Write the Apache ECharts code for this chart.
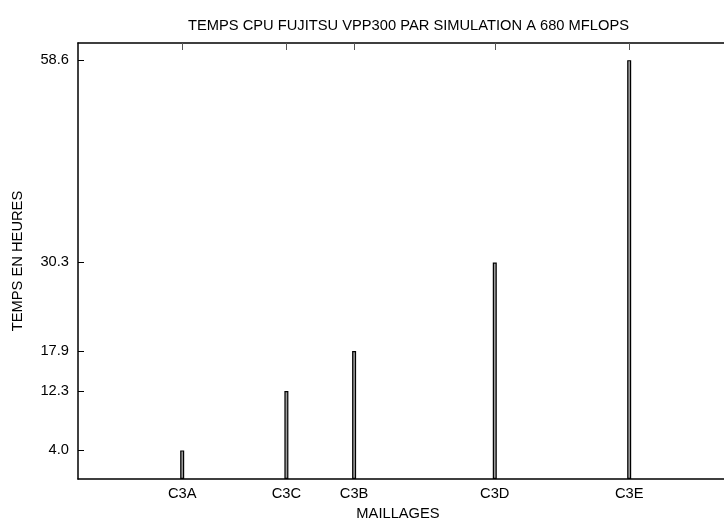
<!DOCTYPE html>
<html>
<head>
<meta charset="utf-8">
<script src="https://cdn.jsdelivr.net/npm/echarts@6/dist/echarts.min.js"></script>
<style>html,body{margin:0;padding:0;background:#fff;}#c{width:724px;height:526px;}</style>
</head>
<body>
<div id="c"></div>
<script>
// Data
const categories = ['C3A', 'C3C', 'C3B', 'C3D', 'C3E'];
const meshPositions = [1.0, 2.0, 2.65, 4.0, 5.29];
const cpuHours = [4.0, 12.3, 17.9, 30.3, 58.6];
const yTickValues = [4.0, 12.3, 17.9, 30.3, 58.6];

const chart = echarts.init(document.getElementById('c'), null, {renderer: 'canvas'});
const font = 'Liberation Sans, Arial, sans-serif';
const fs = 14.7;
const barData = meshPositions.map((x, i) => [x, cpuHours[i]]);
const labelFor = v => {
  const i = meshPositions.findIndex(p => Math.abs(p - v) < 1e-6);
  return i >= 0 ? categories[i] : '';
};

chart.setOption({
  animation: false,
  backgroundColor: '#ffffff',
  title: {
    text: 'TEMPS CPU FUJITSU VPP300 PAR SIMULATION A 680 MFLOPS',
    left: 183, top: 13,
    textStyle: {fontFamily: font, fontSize: fs, fontWeight: 'normal', color: '#000'}
  },
  grid: {left: 78, right: -2, top: 43, bottom: 41, containLabel: false},
  xAxis: [{
    type: 'value', position: 'bottom', min: 0, max: 6.2,
    name: 'MAILLAGES', nameLocation: 'middle', nameGap: 27,
    nameTextStyle: {fontFamily: font, fontSize: fs, color: '#000', padding: [0, 6, 0, 0]},
    axisLine: {show: true, onZero: false, lineStyle: {color: '#000', width: 1.5}},
    axisTick: {show: true, inside: true, length: 6, customValues: meshPositions, lineStyle: {color: '#000'}},
    axisLabel: {show: true, customValues: meshPositions, formatter: labelFor, margin: 7,
      fontFamily: font, fontSize: fs, color: '#000'},
    splitLine: {show: false}
  }, {
    type: 'value', position: 'top', min: 0, max: 6.2,
    axisLine: {show: true, onZero: false, lineStyle: {color: '#000', width: 1.5}},
    axisTick: {show: true, inside: true, length: 7, customValues: meshPositions, lineStyle: {color: '#555'}},
    axisLabel: {show: false},
    splitLine: {show: false}
  }],
  yAxis: [{
    type: 'value', min: 0, max: 61,
    name: 'TEMPS EN HEURES', nameLocation: 'middle', nameGap: 53, nameRotate: 90,
    nameTextStyle: {fontFamily: font, fontSize: fs, color: '#000'},
    axisLine: {show: true, onZero: false, lineStyle: {color: '#000', width: 1.5}},
    axisTick: {show: true, inside: true, length: 6, customValues: yTickValues, lineStyle: {color: '#000'}},
    axisLabel: {show: true, customValues: yTickValues, formatter: v => v.toFixed(1), margin: 9,
      fontFamily: font, fontSize: fs, color: '#000'},
    splitLine: {show: false}
  }],
  series: [{
    type: 'bar', xAxisIndex: 0, yAxisIndex: 0,
    data: barData, barWidth: 4,
    itemStyle: {color: '#9a9a9a', borderColor: '#000', borderWidth: 1.2}
  }]
});
</script>
</body>
</html>
